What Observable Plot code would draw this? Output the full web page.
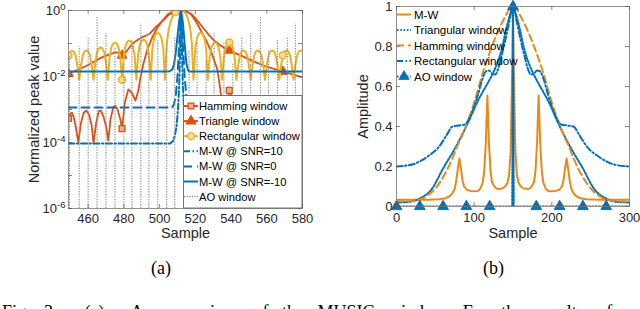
<!DOCTYPE html>
<html><head><meta charset="utf-8">
<script src="https://cdn.jsdelivr.net/npm/d3@7"></script>
<script src="https://cdn.jsdelivr.net/npm/@observablehq/plot@0.6"></script>
<style>
html,body{margin:0;padding:0;background:#fff;width:640px;height:309px;overflow:hidden;}
#wrap{position:relative;width:640px;height:309px;overflow:hidden;}
.panel{position:absolute;top:0;width:320px;height:250px;}
.ov{position:absolute;left:0;top:0;width:320px;height:250px;pointer-events:none;}
.cap{position:absolute;font-family:"Liberation Serif","Times New Roman",serif;font-size:18px;color:#000;white-space:nowrap;line-height:18px;}
</style></head><body><div id="wrap">
<div class="panel" id="pa" style="left:0"></div>
<div class="panel" id="pb" style="left:320px"></div>
<div class="cap" style="left:151px;top:259px">(a)</div>
<div class="cap" style="left:483px;top:259px">(b)</div>
<div class="cap" style="left:2px;top:303px;word-spacing:9px">Fig. 3.&nbsp;&nbsp;(a)&nbsp; A comparison of the MUSIC window. For the results of</div>
</div>
<script>
// ---------- Panel (a) data: normalized peak value (log10) vs sample ----------
const rectStart = 449;
const rectLog10 = [
 -1.37,-1.25,-1.22,-1.25,-1.37,-1.67,-2.1,
 -1.66,-1.36,-1.24,-1.21,-1.24,-1.36,-1.66,-2.1,
 -1.57,-1.27,-1.15,-1.12,-1.15,-1.27,-1.57,-2.1,
 -1.42,-1.12,-1.0,-0.97,-1.0,-1.12,-1.42,-2.1,
 -1.36,-1.06,-0.94,-0.91,-0.94,-1.06,-1.36,-2.1,
 -1.33,-1.03,-0.91,-0.88,-0.91,-1.03,-1.33,-2.1,
 -1.13,-0.83,-0.71,-0.68,-0.71,-0.83,-1.13,-2.1,
 -1.0,-0.6,-0.38,-0.22,-0.12,-0.05,-0.02,-0.005,0,-0.01,-0.05,-0.13,-0.27,-0.5,-0.95,-2.1,
 -1.12,-0.82,-0.7,-0.67,-0.7,-0.82,-1.12,-2.1,
 -1.42,-1.12,-1.0,-0.97,-1.0,-1.12,-1.42,-2.1,
 -1.42,-1.12,-1.0,-0.97,-1.0,-1.12,-1.42,-2.1,
 -1.66,-1.36,-1.24,-1.21,-1.24,-1.36,-1.66,-2.1,
 -1.66,-1.36,-1.24,-1.21,-1.24,-1.36,-1.66,-2.1,
 -1.66,-1.36,-1.24,-1.21,-1.24,-1.36,-1.66,-2.1,
 -1.66,-1.36,-1.24,-1.21,-1.24,-1.36,-1.66,-2.1,
 -1.66,-1.36,-1.24,-1.21,-1.24
];
const triAS = [449,455,460,466.5,472,476,479,482,485,490,494.4,498,502,505,507.6,509,510,512,515,518,521,524,527,530,534,539,544,549,554,558,563,569,574,580];
const triAL = [-1.91,-1.78,-1.65,-1.45,-1.33,-1.27,-1.36,-1.2,-1.0,-0.82,-0.7,-0.5,-0.3,-0.14,-0.05,-0.03,-0.01,0,-0.03,-0.12,-0.3,-0.5,-0.7,-0.88,-1.05,-1.21,-1.33,-1.45,-1.57,-1.67,-1.75,-1.85,-1.93,-2.03];
const hamAS = [449,450,451,452,453,454.5,456,457.5,459,460.5,462,463,464.5,466,467,468.5,470,471.3,472.5,474,475,476.5,478,479,480.5,482.5,484.5,486.5,488,489.3,491,493,496,499,502,504.5,507,509,512,515,517.3,520,523,526,528.5,530.5,532.4,534,535.2,536.3,537.5,539,540.5,542,543.5,546,548,550,552,554,556,558,560,562,564,566,569,572,574,576,578,580];
const hamAL = [-3.27,-3.12,-3.1,-3.25,-3.5,-4.0,-3.4,-3.1,-3.03,-3.15,-3.5,-4.03,-3.4,-3.05,-3.03,-3.2,-3.5,-3.94,-3.3,-2.95,-2.88,-3.0,-3.3,-3.58,-2.8,-2.39,-2.5,-2.73,-2.45,-2.03,-1.6,-1.21,-0.8,-0.5,-0.28,-0.12,-0.04,-0.01,0,-0.03,-0.1,-0.3,-0.6,-0.9,-1.2,-1.5,-1.8,-2.4,-3.0,-4.0,-3.0,-2.42,-2.6,-3.2,-4.2,-3.3,-3.2,-3.6,-4.3,-3.5,-3.3,-3.5,-4.3,-3.5,-3.4,-3.6,-4.0,-3.5,-3.7,-4.3,-3.7,-3.6];
const snr10S = [449,506,507.5,508.5,509.5,510,510.5,511,511.5,512,512.5,513,513.5,514,514.5,515.5,516.5,580];
const snr10L = [-4.03,-4.03,-3.95,-3.8,-3.5,-3.2,-2.8,-2.2,-1.2,0,-1.2,-2.2,-2.8,-3.2,-3.5,-3.8,-4.03,-4.03];
const snr0S = [449,507,508,509,510,511,512,513,514,515,516,517,580];
const snr0L = [-2.94,-2.94,-2.85,-2.6,-2.0,-1.0,0,-1.0,-2.0,-2.6,-2.85,-2.94,-2.94];
const snrm10S = [449,505,507,508,509,510,511,512,513,514,515,516,517,580];
const snrm10L = [-1.85,-1.85,-1.8,-1.65,-1.3,-0.8,-0.3,0,-0.35,-1.0,-1.6,-1.82,-1.85,-1.85];
const aoAS = [449.5,455,460,465,470,475,480,484.5,489.5,494,499,504,508.5,516.5,521,526,530.5,536,541,546,551,556.5,561,566,571.5,576];
const aoAL = [-1.4,-1.1,-0.8,-0.2,-0.7,-1.1,-1.6,-0.9,-0.4,-1.3,-0.9,-1.0,-0.8,-1.2,-1.0,-1.5,-0.7,-1.0,-1.6,-0.8,-0.7,-0.2,-1.2,-0.9,-0.8,-0.4];
const markerSamplesA = [449,479,509,539,569];
const xTicksA = [460,480,500,520,540,560,580];
const yTicksA = [1e-6,1e-4,1e-2,1];
const yMinorA = [1e-6,1e-5,1e-4,1e-3,1e-2,1e-1,1];

// ---------- Panel (b) data: amplitude vs sample ----------
const mwS = [0,40,55,62,68,72,75,77,79,81,83,85,87,90,95,100,105,108,111,113,115,117,119,121,123,127,130,136,140,143,145,147,149,150,151,153,155,157,160,164,170,173,177,179,181,183,185,187,189,192,195,200,205,210,213,215,217,219,221,223,225,228,232,238,245,260,300];
const mwV = [0.034,0.034,0.036,0.04,0.05,0.065,0.09,0.13,0.19,0.24,0.19,0.13,0.1,0.085,0.078,0.076,0.078,0.09,0.12,0.18,0.32,0.555,0.32,0.18,0.12,0.095,0.088,0.09,0.1,0.12,0.16,0.28,0.7,1.0,0.7,0.28,0.16,0.12,0.1,0.09,0.088,0.095,0.12,0.18,0.32,0.555,0.32,0.18,0.12,0.09,0.078,0.076,0.078,0.085,0.1,0.13,0.19,0.24,0.19,0.13,0.09,0.065,0.05,0.04,0.036,0.034,0.034];
const triBS = [0,20,30,45,60,78,91,105,115,122,128,135,142,147,150,153,158,165,172,178,185,195,209,222,240,255,270,280,300];
const triBV = [0.02,0.025,0.04,0.085,0.19,0.31,0.41,0.53,0.6,0.65,0.7,0.78,0.9,0.97,1.0,0.97,0.9,0.78,0.7,0.65,0.6,0.53,0.41,0.31,0.19,0.085,0.04,0.025,0.02];
const hamBS = [0,20,30,40,50,59,66,72,78,84,91,100,106,112,120,130,140,145,150,155,160,170,180,188,194,200,209,216,222,228,234,241,250,260,270,280,300];
const hamBV = [0.025,0.028,0.035,0.055,0.09,0.14,0.19,0.24,0.3,0.35,0.42,0.52,0.6,0.68,0.77,0.87,0.95,0.985,1.0,0.985,0.95,0.87,0.77,0.68,0.6,0.52,0.42,0.35,0.3,0.24,0.19,0.14,0.09,0.055,0.035,0.028,0.025];
const rectBS = [0,20,40,55,65,72,80,88,95,100,105,110,115,119,123,127,131,135,140,145,150,155,160,165,169,173,177,181,185,190,195,200,205,212,220,228,235,245,260,280,300];
const rectBV = [0.2,0.21,0.25,0.3,0.36,0.4,0.405,0.41,0.45,0.5,0.56,0.63,0.675,0.68,0.665,0.66,0.69,0.75,0.83,0.92,1.0,0.92,0.83,0.75,0.69,0.66,0.665,0.68,0.675,0.63,0.56,0.5,0.45,0.41,0.405,0.4,0.36,0.3,0.25,0.21,0.2];
const aoBS = [0,30,60,90,120,149,150,151,180,210,240,270,300];
const aoBV = [0,0,0,0,0,0,1,0,0,0,0,0,0];
const aoBMarkers = [0,30,60,90,120,150,180,210,240,270];
const xTicksB = [0,100,200,300];
const yTicksB = [0,0.2,0.4,0.6,0.8,1];

// ---------- styles ----------
const BLUE = "#0072BD", RED = "#D95319", YEL = "#EDB120", GRAY = "#8a8a8a", ORG = "#E8891A";
const FONT = "'Liberation Sans', Arial, sans-serif";
const AXC = "#262626";

const pairs = (S, V, f = v => v) => S.map((s, i) => ({s, v: f(V[i])}));
const p10 = v => Math.pow(10, v);

const rectA = rectLog10.map((v, i) => ({s: rectStart + i, v: p10(v)}));
const triA = pairs(triAS, triAL, p10);
const hamA = pairs(hamAS, hamAL, p10);
const s10 = pairs(snr10S, snr10L, p10);
const s0 = pairs(snr0S, snr0L, p10);
const sm10 = pairs(snrm10S, snrm10L, p10);
const aoA = pairs(aoAS, aoAL, p10);
const pick = (arr) => arr.filter(d => markerSamplesA.includes(d.s));

const axisStyle = {fontFamily: FONT, fontSize: "13px", color: AXC, background: "transparent", overflow: "visible"};

// ---------- Plot (a) ----------
const fa = {w: 234, h: 198};
const plotA = Plot.plot({
  width: 320, height: 250,
  marginLeft: 68, marginRight: 18, marginTop: 10, marginBottom: 42,
  style: axisStyle,
  x: {domain: [449, 580]},
  y: {type: "log", domain: [1e-6, 1]},
  marks: [
    Plot.line(hamA, {x: "s", y: "v", stroke: RED, strokeWidth: 1.8, clip: true}),
    Plot.dot(pick(hamA), {x: "s", y: "v", symbol: "square", r: 3.3, stroke: RED, fill: "#f2b08f", strokeWidth: 1.3, clip: true}),
    Plot.line(triA, {x: "s", y: "v", stroke: RED, strokeWidth: 1.8, curve: "monotone-x", clip: true}),
    Plot.dot(pick(triA), {x: "s", y: "v", symbol: "triangle", r: 3.6, stroke: RED, fill: RED, strokeWidth: 1, clip: true}),
    Plot.line(rectA, {x: "s", y: "v", stroke: YEL, strokeWidth: 2, clip: true}),
    Plot.dot(pick(rectA), {x: "s", y: "v", symbol: "circle", r: 3.5, stroke: YEL, fill: "#f7dc95", strokeWidth: 1.4, clip: true}),
    Plot.line(s10, {x: "s", y: "v", stroke: BLUE, strokeWidth: 2, strokeDasharray: "6,2.5,1.5,2.5", clip: true}),
    Plot.line(s0, {x: "s", y: "v", stroke: BLUE, strokeWidth: 2, strokeDasharray: "8,5", clip: true}),
    Plot.line(sm10, {x: "s", y: "v", stroke: BLUE, strokeWidth: 2, clip: true}),
    Plot.ruleX(aoA, {x: "s", y1: 1e-6, y2: "v", stroke: GRAY, strokeWidth: 1.1, strokeDasharray: "1.3,1.3", clip: true}),
    Plot.frame({stroke: "#777", strokeWidth: 0.8}),
    Plot.tickX(xTicksA, {x: d => d, insetTop: fa.h - 4, stroke: "#555", strokeWidth: 0.7}),
    Plot.tickX(xTicksA, {x: d => d, insetBottom: fa.h - 4, stroke: "#555", strokeWidth: 0.7}),
    Plot.tickY(yMinorA, {y: d => d, insetRight: fa.w - 4, stroke: "#555", strokeWidth: 0.7}),
    Plot.tickY(yMinorA, {y: d => d, insetLeft: fa.w - 4, stroke: "#555", strokeWidth: 0.7}),
    Plot.axisX({ticks: xTicksA, tickSize: 0, tickPadding: 5, label: null, tickFormat: d => String(d)}),
    Plot.axisY({ticks: yTicksA, tickSize: 0, tickPadding: 3, label: null, tickFormat: d => String(Math.round(Math.log10(d)))}),
    Plot.text(["Sample"], {frameAnchor: "bottom", dy: 29, fontSize: 14.5, fill: AXC, textAnchor: "middle"}),
    Plot.text(["Normalized peak value"], {frameAnchor: "left", dx: -34, rotate: -90, fontSize: 14.5, fill: AXC, textAnchor: "middle"})
  ]
});
// superscript exponents on the log axis
d3.select(plotA).selectAll('[aria-label="y-axis tick label"] text').each(function() {
  const e = this.textContent;
  const t = d3.select(this);
  t.text("10");
  t.append("tspan").attr("dy", "-0.5em").attr("font-size", "9.5px").text(e);
});
document.getElementById("pa").appendChild(plotA);

// ---------- Plot (b) ----------
const fb = {w: 233, h: 200};
const plotB = Plot.plot({
  width: 320, height: 250,
  marginLeft: 76, marginRight: 11, marginTop: 6, marginBottom: 44,
  style: axisStyle,
  x: {domain: [0, 300]},
  y: {domain: [0, 1]},
  marks: [
    Plot.line(pairs(mwS, mwV), {x: "s", y: "v", stroke: ORG, strokeWidth: 2, clip: true}),
    Plot.line(pairs(triBS, triBV), {x: "s", y: "v", stroke: BLUE, strokeWidth: 2, strokeDasharray: "1.5,1.8", curve: "monotone-x", clip: true}),
    Plot.line(pairs(hamBS, hamBV), {x: "s", y: "v", stroke: ORG, strokeWidth: 2, strokeDasharray: "7,4", curve: "monotone-x", clip: true}),
    Plot.line(pairs(rectBS, rectBV), {x: "s", y: "v", stroke: BLUE, strokeWidth: 2, strokeDasharray: "6,2.5,1.5,2.5", curve: "monotone-x", clip: true}),
    Plot.line(pairs(aoBS, aoBV), {x: "s", y: "v", stroke: BLUE, strokeWidth: 2, strokeDasharray: "1.5,1.8", clip: true}),
    Plot.dot(pairs(aoBS, aoBV).filter(d => aoBMarkers.includes(d.s)), {x: "s", y: "v", symbol: "triangle", r: 4, fill: BLUE, stroke: "#0b5a94", strokeWidth: 0.8}),
    Plot.frame({stroke: "#777", strokeWidth: 0.8}),
    Plot.tickX(xTicksB, {x: d => d, insetTop: fb.h - 4, stroke: "#555", strokeWidth: 0.7}),
    Plot.tickX(xTicksB, {x: d => d, insetBottom: fb.h - 4, stroke: "#555", strokeWidth: 0.7}),
    Plot.tickY(yTicksB, {y: d => d, insetRight: fb.w - 4, stroke: "#555", strokeWidth: 0.7}),
    Plot.tickY(yTicksB, {y: d => d, insetLeft: fb.w - 4, stroke: "#555", strokeWidth: 0.7}),
    Plot.axisX({ticks: xTicksB, tickSize: 0, tickPadding: 6, label: null, tickFormat: d => String(d)}),
    Plot.axisY({ticks: yTicksB, tickSize: 0, tickPadding: 4, label: null, tickFormat: d => String(d)}),
    Plot.text(["Sample"], {frameAnchor: "bottom", dy: 31, fontSize: 14.5, fill: AXC, textAnchor: "middle"}),
    Plot.text(["Amplitude"], {frameAnchor: "left", dx: -33, rotate: -90, fontSize: 14.5, fill: AXC, textAnchor: "middle"})
  ]
});
document.getElementById("pb").appendChild(plotB);

// ---------- legends ----------
function legend(parentId, opts) {
  const svg = d3.select("#" + parentId).append("svg").attr("class", "ov").attr("width", 320).attr("height", 250);
  if (opts.box) {
    svg.append("rect").attr("x", opts.box[0] + 0.5).attr("y", opts.box[1] + 0.5).attr("width", opts.box[2]).attr("height", opts.box[3])
      .attr("fill", "#fff").attr("stroke", "#555").attr("stroke-width", 0.8);
  }
  opts.items.forEach((it, i) => {
    const y = opts.y0 + i * opts.dy;
    svg.append("line").attr("x1", opts.x0).attr("x2", opts.x1).attr("y1", y).attr("y2", y)
      .attr("stroke", it.color).attr("stroke-width", it.width || 2).attr("stroke-dasharray", it.dash || null);
    const mx = (opts.x0 + opts.x1) / 2;
    if (it.marker) {
      const size = it.marker === "triangle" ? 45 : it.marker === "square" ? 34 : 38;
      const type = it.marker === "triangle" ? d3.symbolTriangle : it.marker === "square" ? d3.symbolSquare : d3.symbolCircle;
      svg.append("path").attr("d", d3.symbol(type, size)()).attr("transform", `translate(${mx},${y})`)
        .attr("fill", it.mfill).attr("stroke", it.color).attr("stroke-width", it.mw || 1.3);
    }
    svg.append("text").attr("x", opts.tx).attr("y", y).attr("dominant-baseline", "central")
      .attr("font-family", FONT).attr("font-size", opts.fs).attr("fill", "#000").text(it.label);
  });
}
legend("pa", {
  box: [183, 95, 118.5, 112.5], x0: 184, x1: 198, tx: 199, y0: 106, dy: 15.1, fs: "11.2px",
  items: [
    {label: "Hamming window", color: RED, marker: "square", mfill: "#f2b08f"},
    {label: "Triangle window", color: RED, marker: "triangle", mfill: RED, mw: 1},
    {label: "Rectangular window", color: YEL, marker: "circle", mfill: "#f7dc95"},
    {label: "M-W @ SNR=10", color: BLUE, dash: "6,2.5,1.5,2.5"},
    {label: "M-W @ SNR=0", color: BLUE, dash: "8,5"},
    {label: "M-W @ SNR=-10", color: BLUE},
    {label: "AO window", color: GRAY, dash: "1.3,1.3", width: 1.1}
  ]
});
legend("pb", {
  x0: 77, x1: 91, tx: 94, y0: 14.5, dy: 15.5, fs: "11.5px",
  items: [
    {label: "M-W", color: ORG},
    {label: "Triangular window", color: BLUE, dash: "1.5,1.8"},
    {label: "Hamming window", color: ORG, dash: "7,4"},
    {label: "Rectangular window", color: BLUE, dash: "6,2.5,1.5,2.5"},
    {label: "AO window", color: BLUE, dash: "1.5,1.8", marker: "triangle", mfill: BLUE, mw: 0.8}
  ]
});
</script>
</body></html>
